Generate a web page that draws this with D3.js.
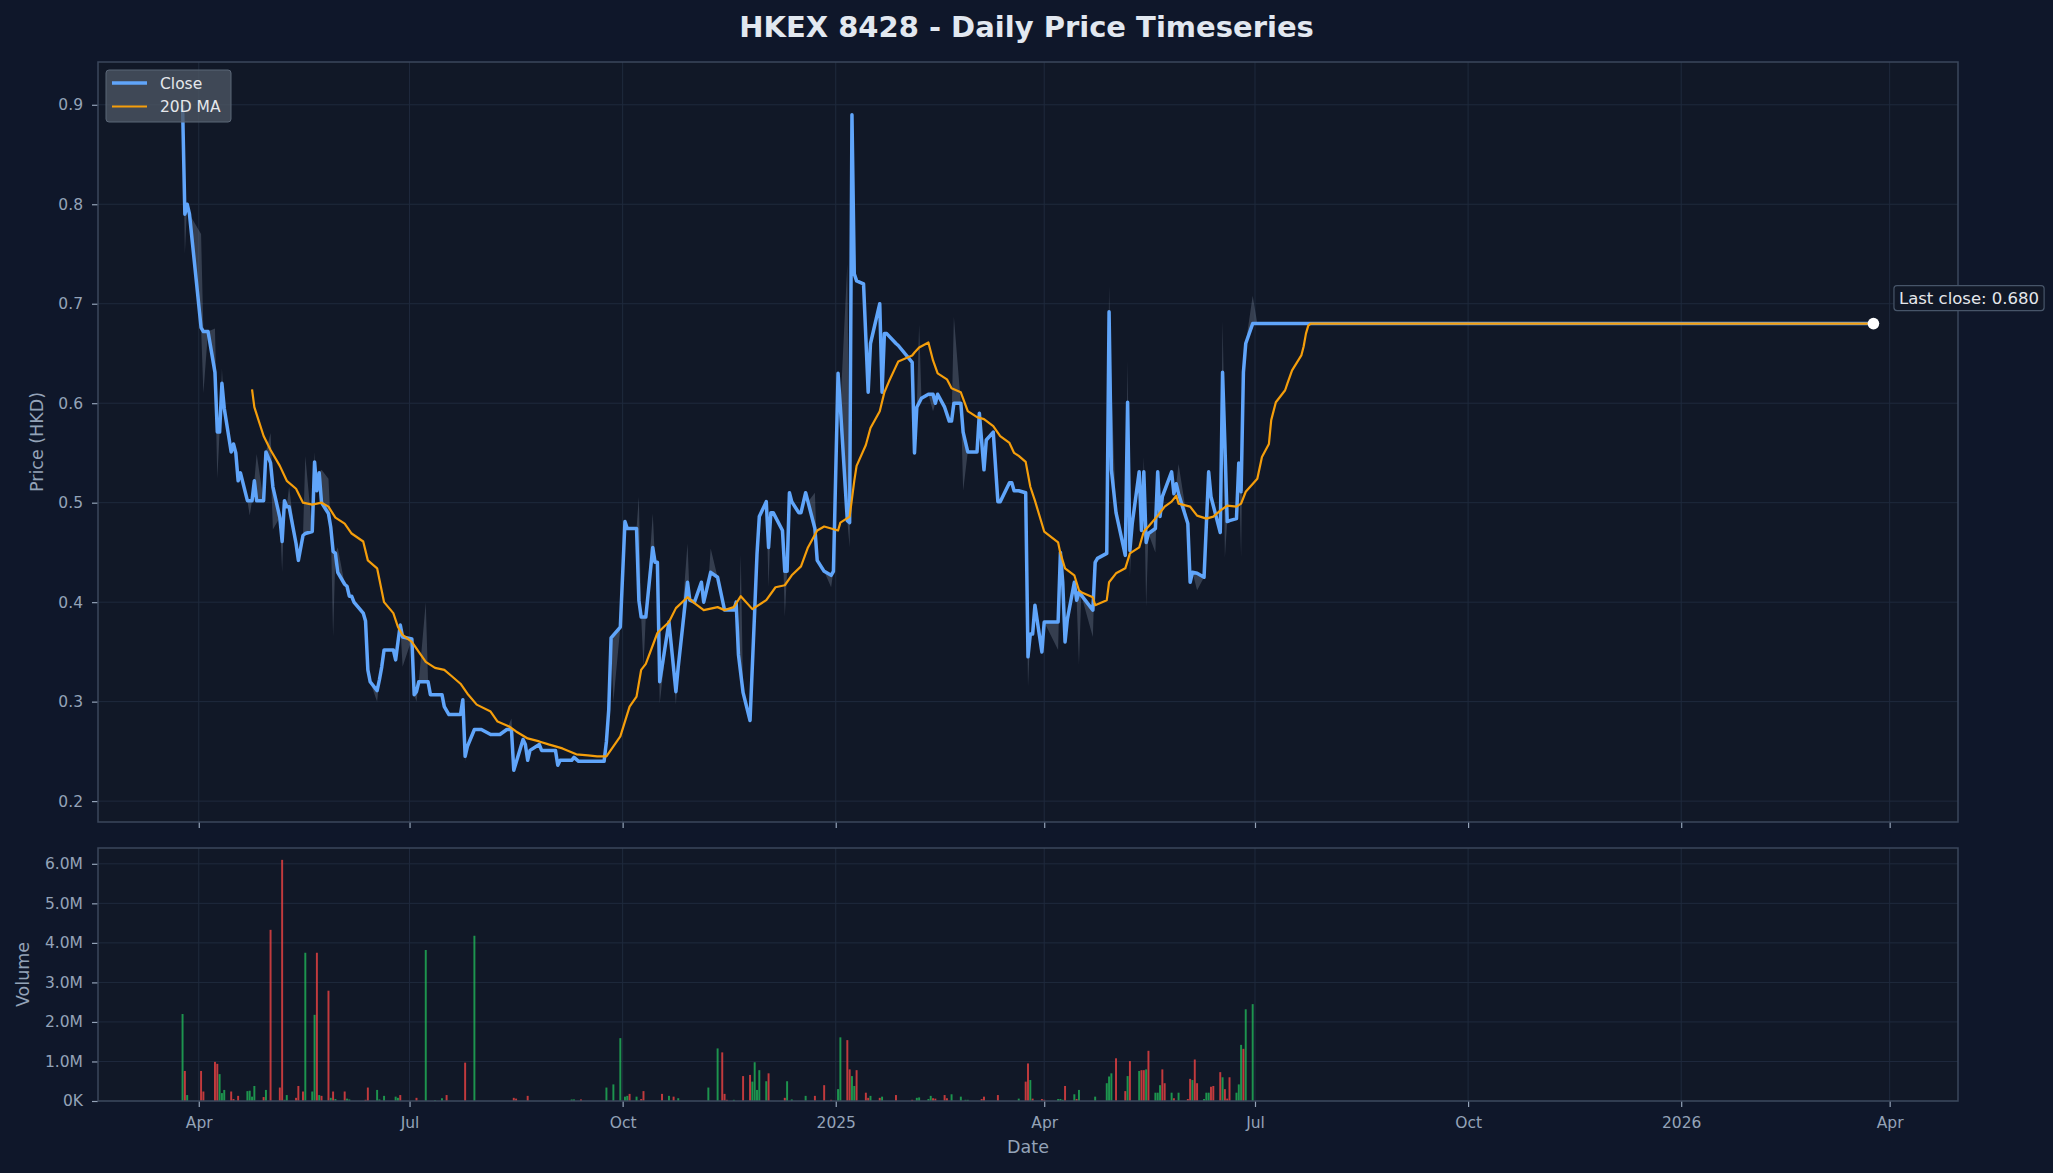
<!DOCTYPE html>
<html><head><meta charset="utf-8">
<script src="https://cdn.jsdelivr.net/npm/d3@7"></script>
<style>
html,body{margin:0;padding:0;background:#0f172a;}
svg{display:block;font-family:"DejaVu Sans",sans-serif;}
</style></head><body>
<svg id="chart" width="2053" height="1173"></svg>
<script>
// ---------------- DATA ----------------
const closeSeries = [
["2024-03-25",0.900],["2024-03-26",0.790],["2024-03-27",0.800],["2024-03-28",0.790],["2024-04-02",0.676],
["2024-04-03",0.672],["2024-04-05",0.672],["2024-04-08",0.631],["2024-04-09",0.571],["2024-04-10",0.571],
["2024-04-11",0.620],["2024-04-12",0.595],["2024-04-15",0.551],["2024-04-16",0.559],["2024-04-17",0.550],
["2024-04-18",0.522],["2024-04-19",0.530],["2024-04-22",0.502],["2024-04-23",0.502],["2024-04-24",0.502],
["2024-04-25",0.522],["2024-04-26",0.502],["2024-04-29",0.502],["2024-04-30",0.551],["2024-05-02",0.540],
["2024-05-03",0.516],["2024-05-06",0.485],["2024-05-07",0.461],["2024-05-08",0.502],["2024-05-09",0.496],
["2024-05-10",0.496],["2024-05-13",0.459],["2024-05-14",0.442],["2024-05-16",0.467],["2024-05-17",0.469],
["2024-05-20",0.471],["2024-05-21",0.541],["2024-05-22",0.512],["2024-05-23",0.530],["2024-05-24",0.500],
["2024-05-27",0.489],["2024-05-28",0.475],["2024-05-29",0.451],["2024-05-30",0.449],["2024-05-31",0.430],
["2024-06-03",0.418],["2024-06-04",0.416],["2024-06-05",0.406],["2024-06-06",0.406],["2024-06-07",0.400],
["2024-06-11",0.389],["2024-06-12",0.381],["2024-06-13",0.332],["2024-06-14",0.320],["2024-06-17",0.311],
["2024-06-18",0.322],["2024-06-19",0.335],["2024-06-20",0.352],["2024-06-21",0.352],["2024-06-24",0.352],
["2024-06-25",0.342],["2024-06-26",0.360],["2024-06-27",0.377],["2024-06-28",0.365],["2024-07-02",0.363],
["2024-07-03",0.307],["2024-07-04",0.310],["2024-07-05",0.320],["2024-07-08",0.320],["2024-07-09",0.320],
["2024-07-10",0.307],["2024-07-11",0.307],["2024-07-12",0.307],["2024-07-15",0.307],["2024-07-16",0.295],
["2024-07-17",0.291],["2024-07-18",0.287],["2024-07-19",0.287],["2024-07-22",0.287],["2024-07-23",0.287],
["2024-07-24",0.302],["2024-07-25",0.245],["2024-07-26",0.255],["2024-07-29",0.272],["2024-08-01",0.272],
["2024-08-05",0.267],["2024-08-09",0.267],["2024-08-12",0.272],["2024-08-14",0.272],["2024-08-15",0.231],
["2024-08-19",0.262],["2024-08-20",0.257],["2024-08-21",0.241],["2024-08-22",0.251],["2024-08-26",0.257],
["2024-08-27",0.251],["2024-09-02",0.251],["2024-09-03",0.236],["2024-09-04",0.241],["2024-09-09",0.241],
["2024-09-10",0.244],["2024-09-12",0.240],["2024-09-23",0.240],["2024-09-24",0.260],["2024-09-25",0.292],
["2024-09-26",0.364],["2024-09-30",0.375],["2024-10-02",0.481],["2024-10-03",0.474],["2024-10-07",0.474],
["2024-10-08",0.402],["2024-10-09",0.385],["2024-10-11",0.385],["2024-10-14",0.455],["2024-10-15",0.440],
["2024-10-16",0.440],["2024-10-17",0.320],["2024-10-21",0.380],["2024-10-24",0.310],["2024-10-25",0.335],
["2024-10-29",0.420],["2024-10-30",0.402],["2024-11-01",0.400],["2024-11-04",0.420],["2024-11-05",0.400],
["2024-11-07",0.420],["2024-11-08",0.430],["2024-11-11",0.425],["2024-11-14",0.392],["2024-11-18",0.392],
["2024-11-19",0.400],["2024-11-20",0.347],["2024-11-22",0.309],["2024-11-25",0.281],["2024-11-27",0.391],
["2024-11-28",0.448],["2024-11-29",0.486],["2024-12-02",0.501],["2024-12-03",0.455],["2024-12-04",0.490],
["2024-12-05",0.490],["2024-12-09",0.472],["2024-12-10",0.431],["2024-12-11",0.431],["2024-12-12",0.510],
["2024-12-13",0.501],["2024-12-16",0.490],["2024-12-17",0.490],["2024-12-19",0.510],["2024-12-20",0.501],
["2024-12-23",0.474],["2024-12-24",0.442],["2024-12-27",0.431],["2024-12-30",0.427],["2024-12-31",0.431],
["2025-01-02",0.630],["2025-01-03",0.596],["2025-01-06",0.482],["2025-01-07",0.480],["2025-01-08",0.890],
["2025-01-09",0.730],["2025-01-10",0.723],["2025-01-13",0.720],["2025-01-15",0.611],["2025-01-16",0.660],
["2025-01-20",0.700],["2025-01-21",0.611],["2025-01-22",0.670],["2025-01-23",0.670],["2025-01-27",0.660],
["2025-01-28",0.658],["2025-02-03",0.641],["2025-02-04",0.550],["2025-02-05",0.596],["2025-02-07",0.605],
["2025-02-10",0.609],["2025-02-12",0.609],["2025-02-13",0.600],["2025-02-14",0.609],["2025-02-17",0.596],
["2025-02-19",0.582],["2025-02-20",0.582],["2025-02-21",0.600],["2025-02-24",0.600],["2025-02-25",0.571],
["2025-02-27",0.551],["2025-03-03",0.551],["2025-03-04",0.590],["2025-03-06",0.533],["2025-03-07",0.563],
["2025-03-10",0.571],["2025-03-12",0.501],["2025-03-13",0.501],["2025-03-17",0.520],["2025-03-18",0.520],
["2025-03-19",0.512],["2025-03-21",0.512],["2025-03-24",0.510],["2025-03-25",0.345],["2025-03-26",0.368],
["2025-03-27",0.368],["2025-03-28",0.397],["2025-03-31",0.350],["2025-04-01",0.380],["2025-04-07",0.380],
["2025-04-08",0.450],["2025-04-09",0.420],["2025-04-10",0.360],["2025-04-11",0.383],["2025-04-14",0.420],
["2025-04-15",0.402],["2025-04-16",0.410],["2025-04-17",0.407],["2025-04-22",0.392],["2025-04-23",0.440],
["2025-04-24",0.444],["2025-04-28",0.449],["2025-04-29",0.692],["2025-04-30",0.533],["2025-05-02",0.490],
["2025-05-06",0.447],["2025-05-07",0.601],["2025-05-08",0.452],["2025-05-09",0.479],["2025-05-12",0.531],
["2025-05-13",0.472],["2025-05-14",0.531],["2025-05-15",0.460],["2025-05-16",0.469],["2025-05-19",0.474],
["2025-05-20",0.531],["2025-05-21",0.486],["2025-05-22",0.506],["2025-05-26",0.531],["2025-05-27",0.509],
["2025-05-28",0.519],["2025-05-29",0.509],["2025-06-02",0.479],["2025-06-03",0.420],["2025-06-04",0.430],
["2025-06-06",0.429],["2025-06-09",0.425],["2025-06-11",0.531],["2025-06-12",0.506],["2025-06-16",0.470],
["2025-06-17",0.631],["2025-06-18",0.559],["2025-06-19",0.481],["2025-06-20",0.482],["2025-06-23",0.484],
["2025-06-24",0.540],["2025-06-25",0.511],["2025-06-26",0.631],["2025-06-27",0.660],["2025-06-30",0.680],
["2025-07-02",0.680],["2026-03-25",0.680]
];

const maSeries = [
["2024-04-24",0.614],["2024-04-25",0.596],["2024-04-29",0.567],["2024-05-02",0.553],["2024-05-06",0.537],
["2024-05-09",0.522],["2024-05-13",0.514],["2024-05-16",0.500],["2024-05-20",0.498],["2024-05-24",0.500],
["2024-05-27",0.496],["2024-05-30",0.485],["2024-06-03",0.479],["2024-06-06",0.469],["2024-06-11",0.461],
["2024-06-13",0.442],["2024-06-17",0.434],["2024-06-20",0.400],["2024-06-24",0.389],["2024-06-26",0.375],
["2024-06-28",0.367],["2024-07-02",0.360],["2024-07-05",0.350],["2024-07-08",0.340],["2024-07-12",0.334],
["2024-07-16",0.332],["2024-07-19",0.326],["2024-07-23",0.318],["2024-07-26",0.308],["2024-07-30",0.297],
["2024-08-05",0.290],["2024-08-08",0.280],["2024-08-13",0.275],["2024-08-16",0.270],["2024-08-21",0.263],
["2024-08-26",0.260],["2024-08-30",0.257],["2024-09-05",0.253],["2024-09-11",0.247],["2024-09-16",0.246],
["2024-09-20",0.245],["2024-09-24",0.245],["2024-09-27",0.255],["2024-09-30",0.265],["2024-10-04",0.295],
["2024-10-07",0.305],["2024-10-09",0.332],["2024-10-11",0.338],["2024-10-16",0.369],["2024-10-21",0.380],
["2024-10-24",0.394],["2024-10-29",0.405],["2024-11-01",0.399],["2024-11-05",0.392],["2024-11-11",0.395],
["2024-11-14",0.392],["2024-11-18",0.395],["2024-11-21",0.406],["2024-11-26",0.393],["2024-12-02",0.402],
["2024-12-06",0.415],["2024-12-10",0.417],["2024-12-13",0.427],["2024-12-17",0.436],["2024-12-20",0.455],
["2024-12-24",0.472],["2024-12-27",0.476],["2025-01-02",0.472],["2025-01-03",0.480],["2025-01-07",0.486],
["2025-01-09",0.522],["2025-01-10",0.537],["2025-01-14",0.558],["2025-01-16",0.575],["2025-01-20",0.592],
["2025-01-22",0.611],["2025-01-24",0.622],["2025-01-27",0.637],["2025-01-28",0.642],["2025-02-03",0.648],
["2025-02-04",0.651],["2025-02-06",0.656],["2025-02-10",0.661],["2025-02-12",0.643],["2025-02-14",0.630],
["2025-02-18",0.624],["2025-02-20",0.615],["2025-02-24",0.611],["2025-02-27",0.592],["2025-03-03",0.586],
["2025-03-06",0.584],["2025-03-10",0.577],["2025-03-13",0.567],["2025-03-17",0.560],["2025-03-19",0.550],
["2025-03-21",0.547],["2025-03-24",0.541],["2025-03-26",0.516],["2025-03-28",0.502],["2025-04-01",0.471],
["2025-04-07",0.460],["2025-04-08",0.449],["2025-04-10",0.434],["2025-04-14",0.427],["2025-04-16",0.412],
["2025-04-17",0.410],["2025-04-22",0.405],["2025-04-23",0.397],["2025-04-28",0.402],["2025-04-29",0.420],
["2025-05-02",0.429],["2025-05-06",0.434],["2025-05-08",0.449],["2025-05-12",0.455],["2025-05-14",0.471],
["2025-05-16",0.476],["2025-05-20",0.487],["2025-05-23",0.496],["2025-05-26",0.501],["2025-05-28",0.507],
["2025-05-29",0.499],["2025-06-03",0.496],["2025-06-06",0.487],["2025-06-10",0.484],["2025-06-13",0.486],
["2025-06-16",0.492],["2025-06-19",0.497],["2025-06-23",0.496],["2025-06-25",0.499],["2025-06-27",0.511],
["2025-07-02",0.524],["2025-07-04",0.546],["2025-07-07",0.559],["2025-07-08",0.583],["2025-07-10",0.601],
["2025-07-14",0.613],["2025-07-15",0.620],["2025-07-17",0.633],["2025-07-21",0.648],["2025-07-22",0.657],
["2025-07-23",0.670],["2025-07-24",0.678],["2025-07-25",0.680],["2026-03-25",0.680]
];

// daily low/high where they visibly differ from the close: [date, low, high]
const rangeSpikes = [
["2024-03-25",0.900,0.910],["2024-03-26",0.750,0.800],["2024-04-02",0.676,0.770],["2024-04-03",0.610,0.672],
["2024-04-08",0.631,0.675],["2024-04-09",0.524,0.571],["2024-04-11",0.600,0.635],["2024-04-23",0.487,0.502],
["2024-04-26",0.502,0.549],["2024-05-02",0.540,0.570],["2024-05-03",0.473,0.516],["2024-05-07",0.430,0.461],
["2024-05-10",0.496,0.516],["2024-05-17",0.469,0.547],["2024-05-21",0.541,0.551],["2024-05-24",0.500,0.533],
["2024-05-27",0.489,0.524],["2024-05-29",0.365,0.451],["2024-05-31",0.430,0.455],["2024-06-17",0.300,0.311],
["2024-06-28",0.335,0.365],["2024-07-04",0.300,0.310],["2024-07-08",0.320,0.400],["2024-07-25",0.240,0.245],
["2024-08-14",0.272,0.283],["2024-09-27",0.300,0.366],["2024-10-08",0.402,0.506],["2024-10-10",0.335,0.385],
["2024-10-14",0.455,0.489],["2024-10-17",0.298,0.320],["2024-10-24",0.297,0.310],["2024-10-29",0.420,0.459],
["2024-11-08",0.430,0.454],["2024-11-21",0.325,0.448],["2024-12-03",0.415,0.455],["2024-12-10",0.385,0.431],
["2024-12-23",0.474,0.510],["2024-12-30",0.415,0.427],["2025-01-06",0.482,0.740],["2025-01-07",0.455,0.480],
["2025-02-06",0.600,0.679],["2025-02-12",0.592,0.609],["2025-02-21",0.600,0.687],["2025-02-25",0.512,0.571],
["2025-03-25",0.315,0.345],["2025-04-07",0.352,0.380],["2025-04-16",0.337,0.410],["2025-04-22",0.365,0.392],
["2025-04-29",0.692,0.718],["2025-04-30",0.533,0.620],["2025-05-07",0.601,0.643],["2025-05-08",0.425,0.452],
["2025-05-14",0.531,0.546],["2025-05-15",0.395,0.460],["2025-05-19",0.450,0.474],["2025-05-29",0.509,0.539],
["2025-06-06",0.412,0.429],["2025-06-17",0.631,0.683],["2025-06-18",0.445,0.559],["2025-06-25",0.445,0.511],
["2025-06-30",0.680,0.708]
];

// volume in millions of shares; dir 1 = up day, -1 = down day
const volumeSeries = [
["2024-03-25",2.20,1],["2024-03-26",0.76,-1],["2024-03-27",0.15,1],["2024-04-02",0.76,-1],["2024-04-03",0.24,-1],
["2024-04-08",0.99,-1],["2024-04-09",0.94,-1],["2024-04-10",0.68,1],["2024-04-11",0.20,1],["2024-04-12",0.28,1],
["2024-04-15",0.24,-1],["2024-04-16",0.05,-1],["2024-04-18",0.13,-1],["2024-04-22",0.25,1],["2024-04-23",0.26,1],
["2024-04-24",0.11,1],["2024-04-25",0.38,1],["2024-04-29",0.10,-1],["2024-04-30",0.28,1],["2024-05-02",4.33,-1],
["2024-05-06",0.34,-1],["2024-05-07",6.10,-1],["2024-05-08",0.03,1],["2024-05-09",0.15,1],["2024-05-13",0.08,-1],
["2024-05-14",0.38,-1],["2024-05-16",0.24,-1],["2024-05-17",3.75,1],["2024-05-20",0.24,1],["2024-05-21",2.18,1],
["2024-05-22",3.75,-1],["2024-05-23",0.15,1],["2024-05-24",0.13,-1],["2024-05-27",2.79,-1],["2024-05-28",0.08,1],
["2024-05-29",0.24,-1],["2024-05-30",0.05,1],["2024-06-03",0.24,-1],["2024-06-04",0.06,1],["2024-06-05",0.04,1],
["2024-06-12",0.03,-1],["2024-06-13",0.34,-1],["2024-06-17",0.28,1],["2024-06-18",0.04,1],["2024-06-20",0.13,1],
["2024-06-25",0.11,1],["2024-06-26",0.08,1],["2024-06-27",0.15,-1],["2024-07-04",0.08,-1],["2024-07-08",3.82,1],
["2024-07-12",0.02,1],["2024-07-15",0.07,1],["2024-07-17",0.15,-1],["2024-07-25",0.97,-1],["2024-07-29",4.18,1],
["2024-08-15",0.08,-1],["2024-08-16",0.06,-1],["2024-08-21",0.13,-1],["2024-09-09",0.04,1],["2024-09-10",0.04,1],
["2024-09-13",0.04,-1],["2024-09-24",0.34,1],["2024-09-27",0.42,1],["2024-09-30",1.59,1],["2024-10-02",0.11,1],
["2024-10-03",0.13,1],["2024-10-04",0.18,-1],["2024-10-07",0.11,1],["2024-10-09",0.05,-1],["2024-10-10",0.25,-1],
["2024-10-18",0.18,-1],["2024-10-21",0.13,1],["2024-10-23",0.11,-1],["2024-10-25",0.07,1],["2024-11-07",0.34,1],
["2024-11-11",1.33,1],["2024-11-13",1.23,-1],["2024-11-14",0.18,-1],["2024-11-15",0.03,-1],["2024-11-18",0.03,1],
["2024-11-22",0.63,-1],["2024-11-25",0.66,-1],["2024-11-26",0.49,1],["2024-11-27",0.98,1],["2024-11-28",0.28,1],
["2024-11-29",0.78,1],["2024-12-02",0.50,1],["2024-12-03",0.70,-1],["2024-12-10",0.08,-1],["2024-12-11",0.50,1],
["2024-12-13",0.04,1],["2024-12-19",0.13,1],["2024-12-23",0.13,-1],["2024-12-27",0.40,-1],["2024-12-30",0.03,-1],
["2025-01-02",0.30,1],["2025-01-03",1.61,1],["2025-01-06",1.54,-1],["2025-01-07",0.80,-1],["2025-01-08",0.63,1],
["2025-01-09",0.38,1],["2025-01-10",0.78,-1],["2025-01-14",0.21,-1],["2025-01-15",0.08,-1],["2025-01-16",0.13,1],
["2025-01-20",0.08,-1],["2025-01-21",0.11,1],["2025-01-27",0.15,-1],["2025-02-03",0.03,-1],["2025-02-05",0.08,1],
["2025-02-06",0.09,1],["2025-02-10",0.05,1],["2025-02-11",0.13,1],["2025-02-12",0.07,-1],["2025-02-13",0.06,-1],
["2025-02-17",0.15,-1],["2025-02-18",0.07,-1],["2025-02-20",0.17,1],["2025-02-24",0.11,1],["2025-02-26",0.03,1],
["2025-02-27",0.03,1],["2025-03-05",0.05,-1],["2025-03-06",0.11,-1],["2025-03-12",0.15,-1],["2025-03-21",0.06,1],
["2025-03-24",0.49,-1],["2025-03-25",0.95,-1],["2025-03-26",0.53,1],["2025-03-27",0.06,-1],["2025-03-31",0.05,-1],
["2025-04-01",0.03,-1],["2025-04-07",0.05,1],["2025-04-08",0.05,1],["2025-04-09",0.03,1],["2025-04-10",0.38,-1],
["2025-04-14",0.17,1],["2025-04-15",0.05,-1],["2025-04-16",0.28,1],["2025-04-23",0.11,1],["2025-04-28",0.45,1],
["2025-04-29",0.62,1],["2025-04-30",0.70,1],["2025-05-02",1.08,-1],["2025-05-06",0.25,-1],["2025-05-07",0.63,1],
["2025-05-08",1.01,-1],["2025-05-12",0.76,1],["2025-05-13",0.78,-1],["2025-05-14",0.78,-1],["2025-05-15",0.80,1],
["2025-05-16",1.27,-1],["2025-05-19",0.21,1],["2025-05-20",0.21,1],["2025-05-21",0.40,1],["2025-05-22",0.80,-1],
["2025-05-23",0.45,-1],["2025-05-26",0.21,1],["2025-05-27",0.07,-1],["2025-05-29",0.21,1],["2025-06-02",0.05,-1],
["2025-06-03",0.56,-1],["2025-06-04",0.53,1],["2025-06-05",1.05,-1],["2025-06-06",0.45,-1],["2025-06-09",0.05,1],
["2025-06-10",0.21,1],["2025-06-11",0.21,1],["2025-06-12",0.36,-1],["2025-06-13",0.38,-1],["2025-06-16",0.73,-1],
["2025-06-17",0.60,1],["2025-06-18",0.30,-1],["2025-06-19",0.06,-1],["2025-06-20",0.60,-1],["2025-06-23",0.21,1],
["2025-06-24",0.42,1],["2025-06-25",1.42,1],["2025-06-26",1.32,-1],["2025-06-27",2.32,1],["2025-06-30",2.45,1]
];

const priceTicks = [0.2,0.3,0.4,0.5,0.6,0.7,0.8,0.9];
const priceLimits = [0.179,0.943];
const volumeTicks = [0,1,2,3,4,5,6];
const volumeLimits = [0,6.4];
const dateTicks = ["2024-04-01","2024-07-01","2024-10-01","2025-01-01","2025-04-01","2025-07-01","2025-10-01","2026-01-01","2026-04-01"];
const dateTickLabels = ["Apr","Jul","Oct","2025","Apr","Jul","Oct","2026","Apr"];
const titleText = "HKEX 8428 - Daily Price Timeseries";

// ---------------- CHART ----------------
const parse = d3.timeParse("%Y-%m-%d");
const svg = d3.select("#chart");
const W = 2053, H = 1173;
const L = 98, R = 1958;
const pTop = 62, pBot = 822;
const vTop = 848, vBot = 1101;

const C = {
  fig:"#0f172a", ax:"#111827", spine:"#3b475c", grid:"#1f2a3d", tick:"#94a3b8",
  text:"#94a3b8", title:"#e2e8f0", close:"#60a5fa", ma:"#f59e0b",
  up:"#22c55e", down:"#ef4444", band:"#94a3b8"
};

svg.append("rect").attr("width",W).attr("height",H).attr("fill",C.fig);

const closeData = closeSeries.map(d=>({t:parse(d[0]),v:d[1]}));
const maData = maSeries.map(d=>({t:parse(d[0]),v:d[1]}));
const volData = volumeSeries.map(d=>({t:parse(d[0]),v:d[1],dir:d[2]}));

const t0 = closeData[0].t, t1 = closeData[closeData.length-1].t;
const span = t1 - t0;
const x = d3.scaleTime().domain([new Date(+t0 - 0.05*span), new Date(+t1 + 0.05*span)]).range([L,R]);
const y = d3.scaleLinear().domain(priceLimits).range([pBot,pTop]);
const yv = d3.scaleLinear().domain(volumeLimits).range([vBot,vTop]);

// band data merge
const spikeMap = new Map(rangeSpikes.map(s=>[s[0],s]));
const bandMap = new Map();
closeSeries.forEach(c=>{
  const s = spikeMap.get(c[0]);
  bandMap.set(c[0], s ? [Math.min(s[1],c[1]), Math.max(s[2],c[1])] : [c[1],c[1]]);
});
rangeSpikes.forEach(s=>{ if(!bandMap.has(s[0])) bandMap.set(s[0],[s[1],s[2]]); });
const bandData = Array.from(bandMap, ([k,v])=>({t:parse(k),lo:v[0],hi:v[1]})).sort((a,b)=>a.t-b.t);

const dateTickVals = dateTicks.map(parse);

// axes backgrounds
svg.append("rect").attr("x",L).attr("y",pTop).attr("width",R-L).attr("height",pBot-pTop).attr("fill",C.ax);
svg.append("rect").attr("x",L).attr("y",vTop).attr("width",R-L).attr("height",vBot-vTop).attr("fill",C.ax);

// grids
function grid(g, top, bot, yTicks, ys){
  g.selectAll("line.vg").data(dateTickVals).enter().append("line")
    .attr("x1",d=>x(d)).attr("x2",d=>x(d)).attr("y1",top).attr("y2",bot)
    .attr("stroke",C.grid).attr("stroke-width",1);
  g.selectAll("line.hg").data(yTicks).enter().append("line")
    .attr("x1",L).attr("x2",R).attr("y1",d=>ys(d)).attr("y2",d=>ys(d))
    .attr("stroke",C.grid).attr("stroke-width",1);
}
grid(svg.append("g"), pTop, pBot, priceTicks, y);
grid(svg.append("g"), vTop, vBot, volumeTicks, yv);

// clip paths
const defs = svg.append("defs");
defs.append("clipPath").attr("id","pclip").append("rect").attr("x",L).attr("y",pTop).attr("width",R-L).attr("height",pBot-pTop);
defs.append("clipPath").attr("id","vclip").append("rect").attr("x",L).attr("y",vTop).attr("width",R-L).attr("height",vBot-vTop);

const pg = svg.append("g").attr("clip-path","url(#pclip)");
pg.append("path").datum(bandData)
  .attr("d", d3.area().x(d=>x(d.t)).y0(d=>y(d.lo)).y1(d=>y(d.hi)))
  .attr("fill",C.band).attr("fill-opacity",0.28);
pg.append("path").datum(closeData)
  .attr("d", d3.line().x(d=>x(d.t)).y(d=>y(d.v)))
  .attr("fill","none").attr("stroke",C.close).attr("stroke-width",3.5).attr("stroke-linejoin","round");
pg.append("path").datum(maData)
  .attr("d", d3.line().x(d=>x(d.t)).y(d=>y(d.v)))
  .attr("fill","none").attr("stroke",C.ma).attr("stroke-width",2.2).attr("stroke-linejoin","round");

// last close marker
const last = closeData[closeData.length-1];
svg.append("circle").attr("cx",x(last.t)).attr("cy",y(last.v)).attr("r",5.8).attr("fill","#ffffff");

// volume bars
const vg = svg.append("g").attr("clip-path","url(#vclip)");
const dayMs = 864e5;
vg.selectAll("rect.bar").data(volData).enter().append("rect")
  .attr("x",d=>x(new Date(+d.t - 0.42*dayMs)))
  .attr("width",d=>x(new Date(+d.t + 0.42*dayMs)) - x(new Date(+d.t - 0.42*dayMs)))
  .attr("y",d=>yv(d.v)).attr("height",d=>yv(0)-yv(d.v))
  .attr("fill",d=>d.dir>0?C.up:C.down).attr("fill-opacity",d=>d.dir>0?0.72:0.8);

// axes
function styleAxis(g){
  g.select(".domain").remove();
  g.selectAll(".tick line").attr("stroke",C.tick).attr("stroke-width",1.2);
  g.selectAll(".tick text").attr("fill",C.text).attr("font-size","15.5px").attr("font-family","DejaVu Sans, sans-serif");
}
svg.append("g").attr("transform",`translate(${L},0)`)
  .call(d3.axisLeft(y).tickValues(priceTicks).tickFormat(d3.format(".1f")).tickSize(6).tickPadding(9))
  .call(styleAxis);
svg.append("g").attr("transform",`translate(${L},0)`)
  .call(d3.axisLeft(yv).tickValues(volumeTicks).tickFormat(d=>d===0?"0K":d.toFixed(1)+"M").tickSize(6).tickPadding(9))
  .call(styleAxis);
svg.append("g").attr("transform",`translate(0,${pBot})`)
  .call(d3.axisBottom(x).tickValues(dateTickVals).tickFormat("").tickSize(6))
  .call(styleAxis);
svg.append("g").attr("transform",`translate(0,${vBot})`)
  .call(d3.axisBottom(x).tickValues(dateTickVals).tickFormat((d,i)=>dateTickLabels[i]).tickSize(6).tickPadding(9.5))
  .call(styleAxis);

// spines
[[pTop,pBot],[vTop,vBot]].forEach(([a,b])=>{
  svg.append("rect").attr("x",L).attr("y",a).attr("width",R-L).attr("height",b-a)
    .attr("fill","none").attr("stroke",C.spine).attr("stroke-width",1.5);
});

// labels
svg.append("text").attr("x",W/2).attr("y",36.5).attr("text-anchor","middle")
  .attr("fill",C.title).attr("font-size","29px").attr("font-weight","bold").text(titleText);
svg.append("text").attr("transform",`translate(43,${(pTop+pBot)/2}) rotate(-90)`).attr("text-anchor","middle")
  .attr("fill",C.text).attr("font-size","17.5px").text("Price (HKD)");
svg.append("text").attr("transform",`translate(29,${(vTop+vBot)/2}) rotate(-90)`).attr("text-anchor","middle")
  .attr("fill",C.text).attr("font-size","17.5px").text("Volume");
svg.append("text").attr("x",(L+R)/2).attr("y",1153).attr("text-anchor","middle")
  .attr("fill",C.text).attr("font-size","17.5px").text("Date");

// annotation
const ann = svg.append("g");
const annText = "Last close: " + last.v.toFixed(3);
const ax0 = x(last.t) + 20, ay0 = y(last.v) - 38;
const at = ann.append("text").attr("x",ax0+5.5).attr("y",ay0+18.5).attr("fill","#e5e7eb")
  .attr("font-size","16.5px").text(annText);
const bb = at.node().getBBox();
ann.insert("rect","text").attr("x",bb.x-5).attr("y",ay0).attr("width",bb.width+10).attr("height",25)
  .attr("rx",3).attr("fill","#111827").attr("stroke","#475569").attr("stroke-width",1.2);

// legend
const lg = svg.append("g");
lg.append("rect").attr("x",106).attr("y",70).attr("width",125).attr("height",52).attr("rx",3)
  .attr("fill","#4b5563").attr("fill-opacity",0.8).attr("stroke","#5b6677").attr("stroke-width",1);
lg.append("line").attr("x1",112).attr("x2",147).attr("y1",83).attr("y2",83).attr("stroke",C.close).attr("stroke-width",3.5);
lg.append("line").attr("x1",112).attr("x2",147).attr("y1",106.5).attr("y2",106.5).attr("stroke",C.ma).attr("stroke-width",2.2);
lg.append("text").attr("x",160).attr("y",88.5).attr("fill","#e5e7eb").attr("font-size","15.5px").text("Close");
lg.append("text").attr("x",160).attr("y",112).attr("fill","#e5e7eb").attr("font-size","15.5px").text("20D MA");
</script>
</body></html>
